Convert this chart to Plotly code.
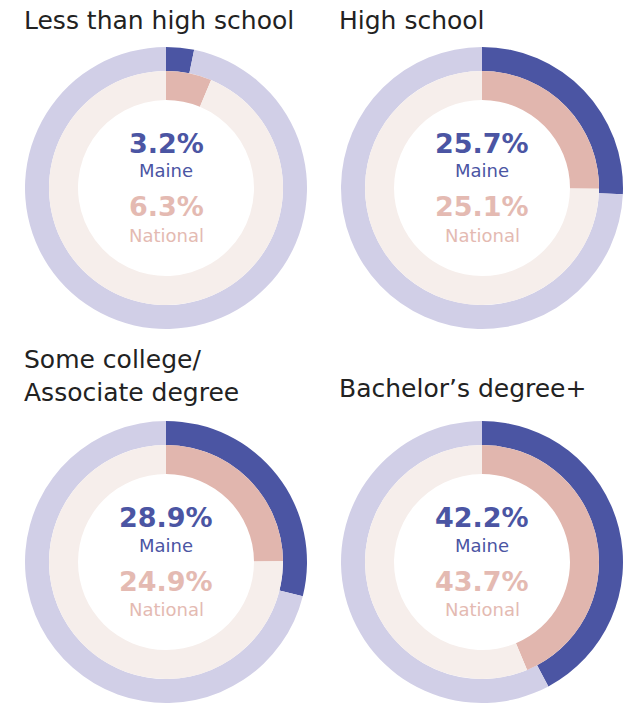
import plotly.graph_objects as go

W, H = 644, 703

categories = ["Less than high school", "High school", "Some college/<br>Associate degree", "Bachelor’s degree+"]
maine = [3.2, 25.7, 28.9, 42.2]
national = [6.3, 25.1, 24.9, 43.7]

# layout (pixels)
centers = [(166, 188), (482, 188), (166, 562), (482, 562)]
title_pos = [(22, 20), (337, 20), (22, 376), (337, 388)]
R_OUT, R_MID, R_IN = 141, 117, 88

C_MAINE = "#4b55a3"
C_MAINE_BG = "#d1cfe7"
C_NAT = "#e1b6ae"
C_NAT_BG = "#f6eeeb"
C_NAT_TXT = "#e4bab2"
FONT = "DejaVu Sans"

def clamp(v):
    return min(1.0, max(0.0, v))

def dom(cx, cy, r):
    return dict(x=[clamp((cx - r) / W), clamp((cx + r) / W)],
                y=[clamp((H - cy - r) / H), clamp((H - cy + r) / H)])

fig = go.Figure()
annotations = []
for i, (cat, m, n) in enumerate(zip(categories, maine, national)):
    cx, cy = centers[i]
    fig.add_trace(go.Pie(values=[m, 100 - m], labels=["Maine", "Other"],
                         domain=dom(cx, cy, R_OUT), hole=R_MID / R_OUT,
                         sort=False, direction="clockwise", rotation=0,
                         marker=dict(colors=[C_MAINE, C_MAINE_BG], line=dict(width=0)),
                         textinfo="none", hoverinfo="label+value", showlegend=False))
    fig.add_trace(go.Pie(values=[n, 100 - n], labels=["National", "Other"],
                         domain=dom(cx, cy, R_MID), hole=R_IN / R_MID,
                         sort=False, direction="clockwise", rotation=0,
                         marker=dict(colors=[C_NAT, C_NAT_BG], line=dict(width=0)),
                         textinfo="none", hoverinfo="label+value", showlegend=False))
    tx, ty = title_pos[i]
    annotations.append(dict(text=cat, x=tx / W, y=(H - ty) / H, xref="paper", yref="paper",
                            xanchor="left", yanchor="middle", align="left", showarrow=False,
                            font=dict(family=FONT, size=25, color="#222222")))
    for dy, txt, size, col, wt in [(-45, f"{m}%", 27, C_MAINE, "bold"),
                                   (-17, "Maine", 18, C_MAINE, "normal"),
                                   (19, f"{n}%", 27, C_NAT_TXT, "bold"),
                                   (47, "National", 18, C_NAT_TXT, "normal")]:
        annotations.append(dict(text=txt, x=cx / W, y=(H - (cy + dy)) / H, xref="paper", yref="paper",
                                xanchor="center", yanchor="middle", showarrow=False,
                                font=dict(family=FONT, size=size, color=col, weight=wt)))

fig.update_layout(width=W, height=H, margin=dict(l=0, r=0, t=0, b=0),
                  paper_bgcolor="white", plot_bgcolor="white", annotations=annotations)
fig.write_html("out.html")
